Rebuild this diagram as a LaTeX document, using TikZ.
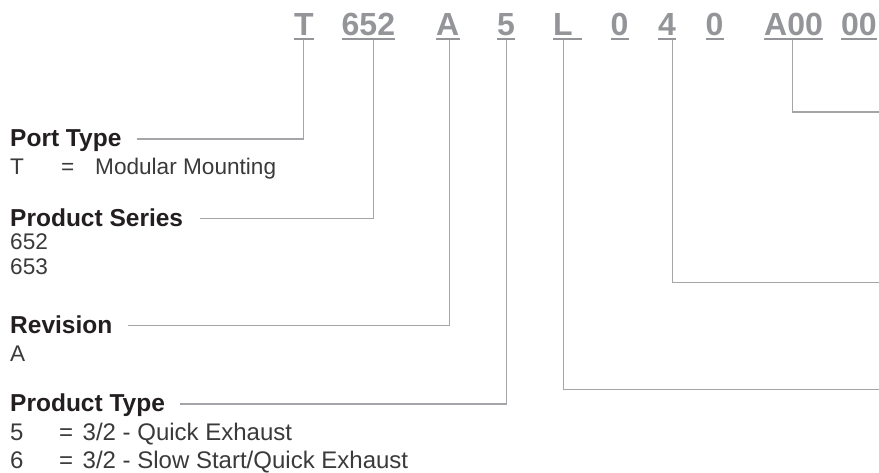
\documentclass[tikz,border=0pt]{standalone}
\usepackage{fontspec}
\setmainfont{Liberation Sans}
\usetikzlibrary{calc}
\definecolor{codegray}{HTML}{939598}
\definecolor{linegray}{HTML}{A3A5A8}
\definecolor{headblack}{HTML}{231F20}
\definecolor{bodygray}{HTML}{3A3A3A}
\tikzset{
  code/.style={anchor=base west, inner sep=0pt, font=\fontsize{32}{32}\selectfont\bfseries, text=codegray},
  uline/.style={draw=codegray, line width=1.5pt},
  conn/.style={draw=linegray, line width=1.1pt},
  head/.style={anchor=base west, inner sep=0pt, font=\fontsize{24.5}{24.5}\selectfont\bfseries, text=headblack},
  item/.style={anchor=base west, inner sep=0pt, font=\fontsize{22.6}{22.6}\selectfont, text=bodygray},
  itemwide/.style={item, font=\fontsize{24}{24}\selectfont},
}
\newcommand{\kvA}[2]{\makebox[51pt][l]{#1}\makebox[34pt][l]{=}#2}
\newcommand{\kvB}[2]{\makebox[49pt][l]{#1}\makebox[23.5pt][l]{=}#2}
\begin{document}
\begin{tikzpicture}[x=1pt,y=-1pt]
\useasboundingbox[fill=white] (0,0) rectangle (879,472);
% top code
\node[code] (cT) at (294,35) {T};
\node[code] (c652) at (341.5,35) {652};
\node[code] (cA) at (436,35) {A};
\node[code] (c5) at (497,35) {5};
\node[code] (cL) at (553,35) {L};
\node[code] (c0a) at (610.5,35) {0};
\node[code] (c4) at (658,35) {4};
\node[code] (c0b) at (705.5,35) {0};
\node[code] (cA00) at (764,35) {A00};
\node[code] (c00) at (841,35) {00};
\foreach \n in {cT,c652,cA,c5,c0a,c4,c0b,cA00,c00}{
  \draw[uline] ($(\n.base west)+(0,4)$) -- ($(\n.base east)+(0,4)$);
}
\draw[uline] ($(cL.base west)+(0,4)$) -- ($(cL.base east)+(9,4)$);
% underline anchor points
\coordinate (uT) at (303.3,40);
\coordinate (u652) at (373.3,40);
\coordinate (uA) at (449.3,40);
\coordinate (u5) at (506.7,40);
\coordinate (uL) at (563.5,40);
\coordinate (u4) at (672.3,40);
\coordinate (uA00) at (792.3,40);
% left headings
\node[head] (hPort) at (10,146.7) {Port Type};
\node[item] (iT) at (10,174) {\kvA{T}{Modular Mounting}};
\node[head] (hSeries) at (10,226) {Product Series};
\node[item] (i652) at (10,249.3) {652};
\node[item] (i653) at (10,274) {653};
\node[head] (hRev) at (10,333.3) {Revision};
\node[item] (iA) at (10,361.7) {A};
\node[head] (hPType) at (10,411.7) {Product Type};
\node[itemwide] (i5) at (10,440) {\kvB{5}{3/2 - Quick Exhaust}};
\node[itemwide] (i6) at (10,468.3) {\kvB{6}{3/2 - Slow Start/Quick Exhaust}};
% left connectors
\draw[conn] ($(hPort.base east)+(15,-7.7)$) -| (uT);
\draw[conn] ($(hSeries.base east)+(17,-7.7)$) -| (u652);
\draw[conn] ($(hRev.base east)+(15,-7.7)$) -| (uA);
\draw[conn] ($(hPType.base east)+(15,-7.7)$) -| (u5);
% right connectors
\coordinate (eA00) at (879,112);
\coordinate (e4) at (879,282.3);
\coordinate (eL) at (879,389.3);
\draw[conn] (uA00) |- (eA00);
\draw[conn] (u4) |- (e4);
\draw[conn] (uL) |- (eL);
\end{tikzpicture}
\end{document}
